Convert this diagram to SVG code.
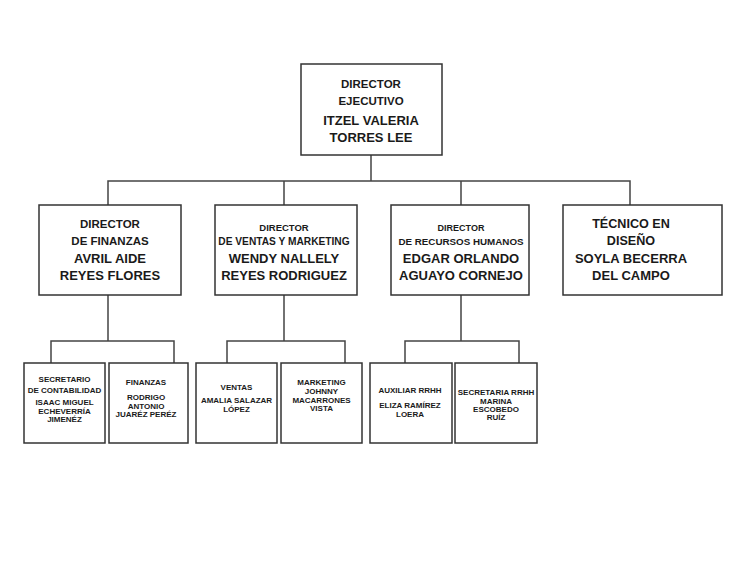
<svg xmlns="http://www.w3.org/2000/svg" width="743" height="567" viewBox="0 0 743 567">
<style>
rect.b{fill:#ffffff;stroke:#333333;stroke-width:1.5}
.c path{fill:none;stroke:#444444;stroke-width:1.5}
text{font-family:"Liberation Sans",Arial,sans-serif;font-weight:bold;fill:#1a1a1a;text-anchor:middle}
.t{font-size:11.5px}
.n{font-size:13px}
.s{font-size:8px}
</style>
<rect width="743" height="567" fill="#ffffff"/>
<g class="c" id="connectors">
<path d="M371 155V181M108 205V181H630V205M284 181V205M461 181V205"/>
<path d="M108 295V341M51 363V341H174V363"/>
<path d="M284 295V341M227 363V341H345V363"/>
<path d="M461 295V341M405 363V341H519V363"/>
</g>
<g id="n0">
<rect class="b" x="301" y="64" width="141" height="91"/>
<text class="t" x="371" y="88">DIRECTOR</text>
<text class="t" x="371" y="105">EJECUTIVO</text>
<text class="n" x="371" y="125">ITZEL VALERIA</text>
<text class="n" x="371" y="142">TORRES LEE</text>
</g>
<g id="n1">
<rect class="b" x="39" y="205" width="142" height="90"/>
<text class="t" x="110" y="228">DIRECTOR</text>
<text class="t" x="110" y="245">DE FINANZAS</text>
<text class="n" x="110" y="263">AVRIL AIDE</text>
<text class="n" x="110" y="280">REYES FLORES</text>
</g>
<g id="n2">
<rect class="b" x="215" y="205" width="142" height="90"/>
<text x="284" y="231" style="font-size:9.5px">DIRECTOR</text>
<text x="284" y="245" style="font-size:10.2px">DE VENTAS Y MARKETING</text>
<text class="n" x="284" y="263">WENDY NALLELY</text>
<text class="n" x="284" y="280">REYES RODRIGUEZ</text>
</g>
<g id="n3">
<rect class="b" x="391" y="205" width="138" height="90"/>
<text x="461" y="231" style="font-size:9px">DIRECTOR</text>
<text x="461" y="245" style="font-size:9.8px">DE RECURSOS HUMANOS</text>
<text class="n" x="461" y="263">EDGAR ORLANDO</text>
<text class="n" x="461" y="280">AGUAYO CORNEJO</text>
</g>
<g id="n4">
<rect class="b" x="563" y="205" width="159" height="90"/>
<text x="631" y="228" style="font-size:12.6px">TÉCNICO EN</text>
<text x="631" y="245" style="font-size:12.6px">DISEÑO</text>
<text class="n" x="631" y="263">SOYLA BECERRA</text>
<text class="n" x="631" y="280">DEL CAMPO</text>
</g>
<g id="n5">
<rect class="b" x="24" y="363" width="81" height="80"/>
<text class="s" x="64.5" y="382">SECRETARIO</text>
<text class="s" x="64.5" y="393">DE CONTABILIDAD</text>
<text class="s" x="64.5" y="405">ISAAC MIGUEL</text>
<text class="s" x="64.5" y="413.5">ECHEVERRÍA</text>
<text class="s" x="64.5" y="422">JIMENÉZ</text>
</g>
<g id="n6">
<rect class="b" x="109" y="363" width="79" height="80"/>
<text class="s" x="146" y="385">FINANZAS</text>
<text class="s" x="146" y="400">RODRIGO</text>
<text class="s" x="146" y="408.5">ANTONIO</text>
<text class="s" x="146" y="417">JUARÉZ PERÉZ</text>
</g>
<g id="n7">
<rect class="b" x="196" y="363" width="81" height="80"/>
<text class="s" x="236.5" y="390">VENTAS</text>
<text class="s" x="236.5" y="403">AMALIA SALAZAR</text>
<text class="s" x="236.5" y="411.5">LÓPEZ</text>
</g>
<g id="n8">
<rect class="b" x="281" y="363" width="81" height="80"/>
<text class="s" x="321.5" y="385">MARKETING</text>
<text class="s" x="321.5" y="394">JOHNNY</text>
<text class="s" x="321.5" y="402.5">MACARRONES</text>
<text class="s" x="321.5" y="411">VISTA</text>
</g>
<g id="n9">
<rect class="b" x="370" y="363" width="82" height="80"/>
<text class="s" x="410" y="393">AUXILIAR RRHH</text>
<text class="s" x="410" y="408">ELIZA RAMÍREZ</text>
<text class="s" x="410" y="416.5">LOERA</text>
</g>
<g id="n10">
<rect class="b" x="455" y="363" width="82" height="80"/>
<text class="s" x="496" y="395">SECRETARIA RRHH</text>
<text class="s" x="496" y="403.5">MARINA</text>
<text class="s" x="496" y="412">ESCOBEDO</text>
<text class="s" x="496" y="420">RUÍZ</text>
</g>
</svg>
